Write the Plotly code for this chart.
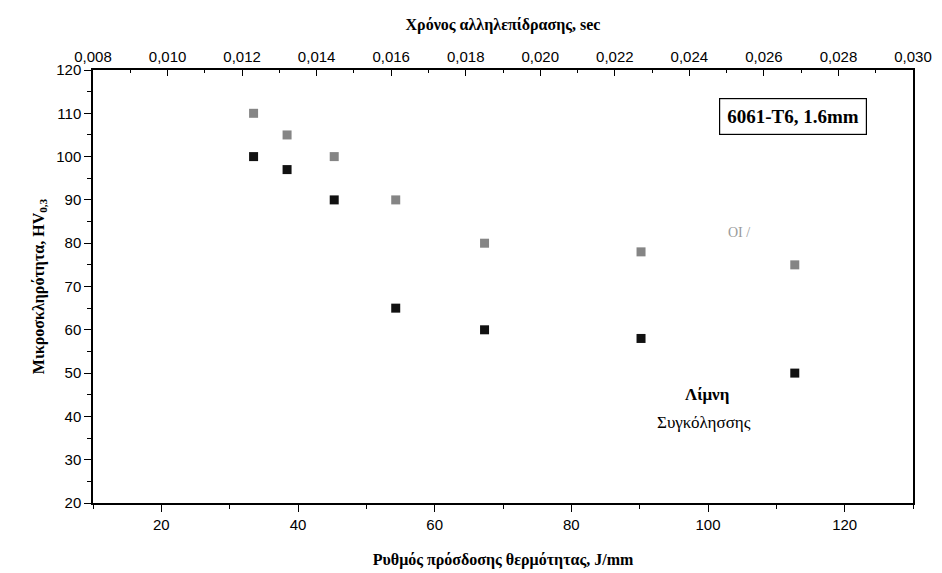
import plotly.graph_objects as go

# Heat input (J/mm) for each weld
heat_input = [33.5, 38.4, 45.3, 54.3, 67.3, 90.2, 112.7]
# Microhardness HV0.3 — heat affected zone (grey) and weld pool (black)
hv_haz = [110, 105, 100, 90, 80, 78, 75]
hv_pool = [100, 97, 90, 65, 60, 58, 50]

# Top axis: interaction time, s
time_ticks = [0.008, 0.010, 0.012, 0.014, 0.016, 0.018, 0.020, 0.022, 0.024, 0.026, 0.028, 0.030]
time_labels = [f"{t:.3f}".replace(".", ",") for t in time_ticks]

serif = "Liberation Serif, Times New Roman, serif"
sans = "Liberation Sans, Arial, sans-serif"

fig = go.Figure()
fig.add_trace(go.Scatter(
    x=heat_input, y=hv_haz, mode="markers", name="ΘΕΖ",
    marker=dict(symbol="square", size=9, color="#858585", line=dict(width=0)),
))
fig.add_trace(go.Scatter(
    x=heat_input, y=hv_pool, mode="markers", name="Λίμνη Συγκόλησσης",
    marker=dict(symbol="square", size=9, color="#111111", line=dict(width=0)),
))
# invisible trace so the top time axis is drawn
fig.add_trace(go.Scatter(
    x=[time_ticks[0], time_ticks[-1]], y=[None, None], xaxis="x2",
    mode="markers", marker=dict(opacity=0), showlegend=False, hoverinfo="skip",
))

fig.update_layout(
    width=942, height=573,
    margin=dict(l=93, r=29, t=70, b=70),
    paper_bgcolor="white", plot_bgcolor="white",
    showlegend=False,
    xaxis=dict(
        range=[10, 130], tickvals=[20, 40, 60, 80, 100, 120], automargin=False,
        ticks="outside", ticklen=7, tickwidth=1.2, tickcolor="black",
        minor=dict(ticks="outside", ticklen=4, dtick=10, tick0=0, tickcolor="black"),
        showline=True, linecolor="black", linewidth=1.5, showgrid=False, zeroline=False,
        tickfont=dict(family=sans, size=15, color="black"),
        title=dict(text="<b>Ρυθμός πρόσδοσης θερμότητας, J/mm</b>",
                   font=dict(family=serif, size=16, color="black"), standoff=22),
    ),
    xaxis2=dict(
        range=[0.008, 0.030], overlaying="x", side="top", anchor="y", automargin=False,
        tickvals=time_ticks, ticktext=time_labels,
        ticks="inside", ticklen=6, tickwidth=1.2, tickcolor="black",
        minor=dict(ticks="inside", ticklen=3, dtick=0.001, tick0=0.008, tickcolor="black"),
        showline=True, linecolor="black", linewidth=1.5, showgrid=False, zeroline=False,
        tickfont=dict(family=sans, size=15, color="black"),
        title=dict(text="<b>Χρόνος αλληλεπίδρασης, sec</b>",
                   font=dict(family=serif, size=16, color="black"), standoff=14),
    ),
    yaxis=dict(
        range=[20, 120], dtick=10, automargin=False,
        ticks="outside", ticklen=7, tickwidth=1.2, tickcolor="black",
        minor=dict(ticks="outside", ticklen=4, dtick=5, tick0=0, tickcolor="black"),
        showline=True, linecolor="black", linewidth=1.5, mirror=True,
        showgrid=False, zeroline=False,
        tickfont=dict(family=sans, size=15, color="black"),
        title=dict(text="<b>Μικροσκληρότητα, HV<sub>0,3</sub></b>",
                   font=dict(family=serif, size=16, color="black"), standoff=8),
    ),
)

fig.add_annotation(
    x=112.5, y=109.2, xref="x", yref="y",
    text="<b>6061-T6, 1.6mm</b>", showarrow=False,
    font=dict(family=serif, size=19, color="black"),
    bordercolor="black", borderwidth=1.2, borderpad=7, bgcolor="white",
)
fig.add_annotation(
    x=96.3, y=45, xref="x", yref="y", xanchor="left",
    text="<b>Λίμνη</b>", showarrow=False,
    font=dict(family=serif, size=17, color="black"),
)
fig.add_annotation(
    x=92.2, y=38.5, xref="x", yref="y", xanchor="left",
    text="Συγκόλησσης", showarrow=False,
    font=dict(family=serif, size=17, color="black"),
)
fig.add_annotation(
    x=104.5, y=82.4, xref="x", yref="y",
    text="ΟΙ /", showarrow=False,
    font=dict(family=serif, size=14, color="#9a9a9a"),
)

fig.write_html("out.html")
